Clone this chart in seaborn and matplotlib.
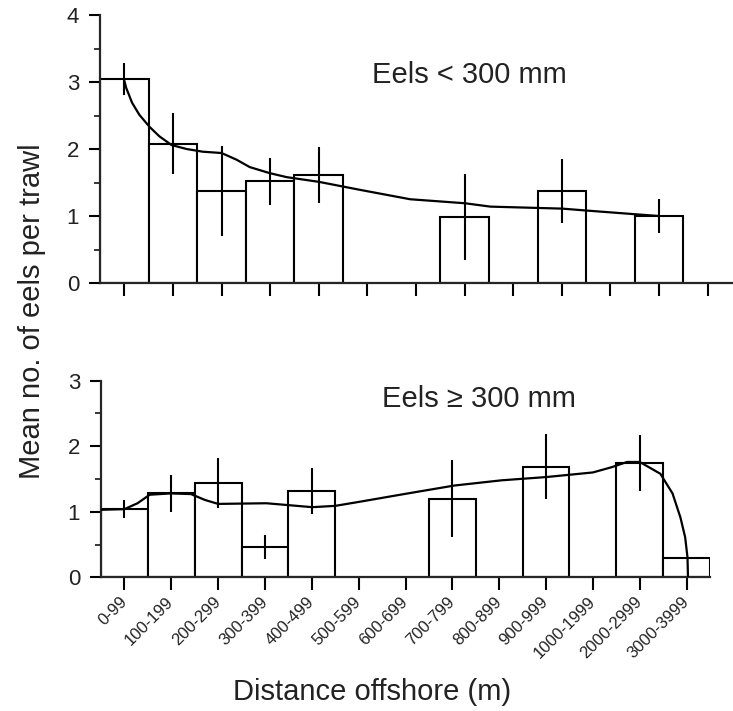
import numpy as np
import pandas as pd
import matplotlib
matplotlib.use("Agg")
import matplotlib.pyplot as plt
import seaborn as sns
from matplotlib.ticker import MultipleLocator

categories = ["0-99", "100-199", "200-299", "300-399", "400-499", "500-599",
              "600-699", "700-799", "800-899", "900-999", "1000-1999",
              "2000-2999", "3000-3999"]

# Eels < 300 mm
small_mean = [3.05, 2.08, 1.37, 1.52, 1.61, np.nan, np.nan, 0.99, np.nan, 1.37, np.nan, 1.00, np.nan]
small_err = [0.24, 0.45, 0.67, 0.35, 0.42, np.nan, np.nan, 0.64, np.nan, 0.48, np.nan, 0.25, np.nan]
small_curve_x = [0.0, 0.04, 0.16, 0.31, 0.52, 0.72, 0.97, 1.28, 1.61, 2.0, 2.31, 2.58, 2.99,
                 3.34, 4.0, 4.85, 5.88, 7.01, 7.53, 9.01, 9.53, 10.99]
small_curve_y = [3.02, 2.91, 2.69, 2.51, 2.33, 2.19, 2.06, 2.00, 1.96, 1.94, 1.84, 1.73, 1.64,
                 1.58, 1.51, 1.39, 1.25, 1.19, 1.14, 1.11, 1.08, 1.00]

# Eels >= 300 mm
large_mean = [1.04, 1.28, 1.44, 0.46, 1.32, np.nan, np.nan, 1.20, np.nan, 1.69, np.nan, 1.74, 0.29]
large_err = [0.14, 0.28, 0.38, 0.18, 0.35, np.nan, np.nan, 0.59, np.nan, 0.49, np.nan, 0.43, np.nan]
large_curve_x = [-0.5, 0.0, 0.28, 0.54, 0.99, 1.42, 1.72, 2.0, 3.03, 4.01, 4.5, 5.0, 6.05,
                 7.04, 8.05, 9.01, 10.0, 10.4, 10.73, 11.0, 11.44, 11.70, 11.87, 11.97, 12.02, 12.03]
large_curve_y = [1.03, 1.04, 1.13, 1.26, 1.28, 1.27, 1.18, 1.12, 1.13, 1.07, 1.09, 1.15, 1.28,
                 1.40, 1.48, 1.53, 1.60, 1.68, 1.76, 1.76, 1.58, 1.28, 0.91, 0.61, 0.30, 0.0]

sns.set_style("ticks")
plt.rcParams["font.family"] = ["Liberation Sans", "DejaVu Sans"]
plt.rcParams["axes.linewidth"] = 1.6

fig = plt.figure(figsize=(7.33, 7.11), dpi=100)
ax1 = fig.add_axes([100 / 733, 1 - 283 / 711, 632 / 733, 268 / 711])
ax2 = fig.add_axes([101 / 733, 1 - 577.3 / 711, 609 / 733, 196.6 / 711])


def draw(ax, mean, err, cx, cy, ymax):
    df = pd.DataFrame({"cat": categories, "val": mean})
    sns.barplot(data=df, x="cat", y="val", order=categories, color="white",
                edgecolor="black", linewidth=1.5, width=1.0, errorbar=None,
                saturation=1, ax=ax)
    idx = np.arange(len(categories))
    m = np.array(mean, dtype=float)
    e = np.array(err, dtype=float)
    ok = ~np.isnan(e)
    ax.errorbar(idx[ok], m[ok], yerr=e[ok], fmt="none", ecolor="black",
                elinewidth=1.5, capsize=0, zorder=5)
    sns.lineplot(x=cx, y=cy, color="black", linewidth=1.6, ax=ax,
                 sort=False, zorder=6, estimator=None)
    ax.set_xlim(-0.5, 12.5)
    ax.set_ylim(0, ymax)
    ax.yaxis.set_major_locator(MultipleLocator(1))
    ax.yaxis.set_minor_locator(MultipleLocator(0.5))
    ax.set_xlabel("")
    ax.set_ylabel("")
    ax.tick_params(axis="both", which="major", direction="out", length=8,
                   width=1.5, color="black", labelsize=16, labelcolor="#222222")
    ax.tick_params(axis="y", which="major", pad=7)
    ax.tick_params(axis="y", which="minor", direction="out", length=4, width=1.3)
    ax.tick_params(axis="x", which="major", length=9, pad=7)
    for s in ["top", "right"]:
        ax.spines[s].set_visible(False)
    ax.patch.set_alpha(0)


draw(ax1, small_mean, small_err, small_curve_x, small_curve_y, 4)
draw(ax2, large_mean, large_err, large_curve_x, large_curve_y, 3)

ax1.set_xticks(range(len(categories)))
ax1.set_xticklabels([])
ax2.set_xticks(range(len(categories)))
ax2.set_xticklabels(categories, rotation=45, ha="right", va="center",
                    rotation_mode="anchor", fontsize=12, color="#222222")

ax1.text(5.1, 3.1, "Eels < 300 mm", fontsize=21, ha="left", va="center", color="#222222")
ax2.text(5.5, 2.72, "Eels \u2265 300 mm", fontsize=21, ha="left", va="center", color="#222222")

fig.text(372 / 733, 1 - 692 / 711, "Distance offshore (m)", fontsize=21,
         ha="center", va="center", color="#222222")
fig.text(32 / 733, 1 - 311 / 711, "Mean no. of eels per trawl", fontsize=21,
         ha="center", va="center", rotation=90, color="#222222")

fig.savefig("out.png", dpi=100)
